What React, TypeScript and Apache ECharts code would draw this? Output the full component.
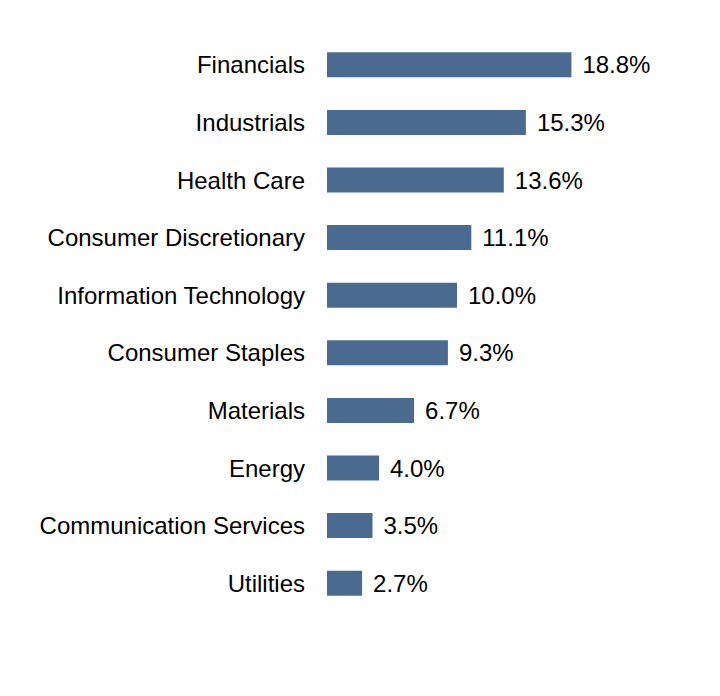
import React, { useEffect, useRef } from "react";
import * as echarts from "echarts";

const categories = [
  "Financials",
  "Industrials",
  "Health Care",
  "Consumer Discretionary",
  "Information Technology",
  "Consumer Staples",
  "Materials",
  "Energy",
  "Communication Services",
  "Utilities",
];
const values = [18.8, 15.3, 13.6, 11.1, 10.0, 9.3, 6.7, 4.0, 3.5, 2.7];

export default function App() {
  const ref = useRef<HTMLDivElement>(null);
  useEffect(() => {
    if (!ref.current) return;
    const chart = echarts.init(ref.current, null, { renderer: "svg" });
    const font = "Arial, 'Liberation Sans', sans-serif";
    chart.setOption({
      animation: false,
      grid: { left: 327, top: 36, width: 260, height: 576 },
      xAxis: {
        type: "value",
        min: 0,
        max: 20,
        show: false,
      },
      yAxis: {
        type: "category",
        data: categories,
        inverse: true,
        axisLine: { show: false },
        axisTick: { show: false },
        axisLabel: {
          margin: 22,
          color: "#000",
          fontSize: 24,
          fontFamily: font,
        },
      },
      series: [
        {
          type: "bar",
          data: values,
          barWidth: 25,
          itemStyle: { color: "#4a6b8f" },
          label: {
            show: true,
            position: "right",
            distance: 11,
            color: "#000",
            fontSize: 24,
            fontFamily: font,
            formatter: (p: any) => p.value.toFixed(1) + "%",
          },
        },
      ],
    });
    return () => chart.dispose();
  }, []);
  return <div ref={ref} style={{ width: 720, height: 696, margin: -8 }} />;
}
